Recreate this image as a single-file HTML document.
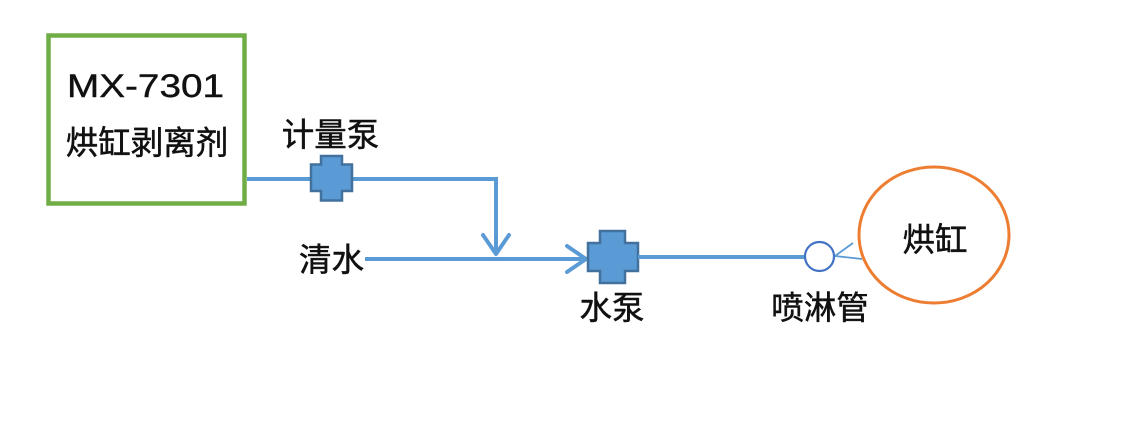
<!DOCTYPE html>
<html>
<head>
<meta charset="utf-8">
<style>
html,body{margin:0;padding:0;background:#fff;}
svg{display:block;}
text{font-family:"Liberation Sans","Noto Sans CJK SC",sans-serif;fill:#111;}
.cn{stroke:#111;stroke-width:0.5;}
</style>
</head>
<body>
<svg width="1148" height="431" viewBox="0 0 1148 431" xmlns="http://www.w3.org/2000/svg">
  <rect width="1148" height="431" fill="#fff"/>
  <!-- green box -->
  <rect x="48.5" y="35.5" width="196" height="168" fill="#fff" stroke="#70ad47" stroke-width="4.5"/>
  <text x="67" y="97" font-size="32" textLength="157" lengthAdjust="spacingAndGlyphs" font-family="Liberation Sans, sans-serif" class="cn" style="stroke-width:0.4">MX-7301</text>
  <text x="147" y="154" font-size="32.5" text-anchor="middle" class="cn">烘缸剥离剂</text>

  <!-- top line from box to pump and down -->
  <polyline points="247,179 496,179 496,255" fill="none" stroke="#5b9bd5" stroke-width="4"/>
  <polyline points="483,235 496,254 509,235" fill="none" stroke="#5b9bd5" stroke-width="4" stroke-linejoin="round" stroke-linecap="round"/>

  <!-- metering pump -->
  <path d="M321,156 H342 V164.5 H352 V191 H342 V200.5 H321 V191 H311 V164.5 H321 Z" fill="#5b9bd5" stroke="#41719c" stroke-width="2.5"/>
  <text x="330.5" y="146" font-size="32.5" text-anchor="middle" class="cn">计量泵</text>

  <!-- clean water line -->
  <line x1="365" y1="259" x2="588" y2="259" stroke="#5b9bd5" stroke-width="4"/>
  <polyline points="567,246 586,259 567,272" fill="none" stroke="#5b9bd5" stroke-width="4" stroke-linejoin="round" stroke-linecap="round"/>
  <text x="331.5" y="271" font-size="32.5" text-anchor="middle" class="cn">清水</text>

  <!-- water pump -->
  <path d="M600,231 H625 V243 H638 V271 H625 V283 H600 V271 H588 V243 H600 Z" fill="#5b9bd5" stroke="#41719c" stroke-width="2.5"/>
  <text x="612" y="319" font-size="32.5" text-anchor="middle" class="cn">水泵</text>

  <!-- line to nozzle -->
  <line x1="638" y1="257" x2="805" y2="257" stroke="#5b9bd5" stroke-width="4"/>
  <circle cx="819.5" cy="256.5" r="14.5" fill="#fff" stroke="#4472c4" stroke-width="2.2"/>
  <line x1="835" y1="256" x2="853" y2="243" stroke="#5b9bd5" stroke-width="1.8"/>
  <line x1="835" y1="256" x2="862" y2="259" stroke="#5b9bd5" stroke-width="1.8"/>
  <text x="820" y="319" font-size="32.5" text-anchor="middle" class="cn">喷淋管</text>

  <!-- dryer cylinder -->
  <ellipse cx="934" cy="235" rx="75" ry="68" fill="#fff" stroke="#ed7d31" stroke-width="3"/>
  <text x="935" y="251" font-size="32.5" text-anchor="middle" class="cn">烘缸</text>
</svg>
</body>
</html>
